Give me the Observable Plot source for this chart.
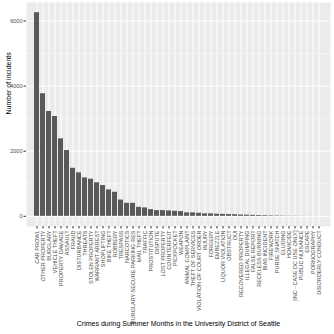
<!DOCTYPE html>
<html>
<head>
<meta charset="utf-8">
<script src="https://cdn.jsdelivr.net/npm/d3@7"></script>
<script src="https://cdn.jsdelivr.net/npm/@observablehq/plot@0.6"></script>
<style>
  html, body { margin: 0; padding: 0; background: white; }
</style>
</head>
<body>
<div id="chart"></div>
<script>
const crimes = [
  "CAR PROWL", "OTHER PROPERTY", "BURGLARY", "VEHICLE THEFT", "PROPERTY DAMAGE",
  "ASSAULT", "FRAUD", "DISTURBANCE", "THREATS", "STOLEN PROPERTY",
  "WARRANT ARREST", "SHOPLIFTING", "BIKE THEFT", "ROBBERY", "TRESPASS",
  "NARCOTICS", "BURGLARY-SECURE PARKING-RES", "MAIL THEFT", "TRAFFIC", "PROSTITUTION",
  "DISPUTE", "LOST PROPERTY", "COUNTERFEIT", "PICKPOCKET", "WEAPON",
  "ANIMAL COMPLAINT", "THEFT OF SERVICES", "VIOLATION OF COURT ORDER", "INJURY", "FORGERY",
  "EMBEZZLE", "LIQUOR VIOLATION", "OBSTRUCT", "DUI", "RECOVERED PROPERTY",
  "ILLEGAL DUMPING", "FALSE REPORT", "RECKLESS BURNING", "BIAS INCIDENT", "FIREWORK",
  "PURSE SNATCH", "ELUDING", "HOMICIDE", "[INC - CASE DC USE ONLY]", "PUBLIC NUISANCE",
  "ESCAPE", "PORNOGRAPHY", "DISORDERLY CONDUCT"
];
const counts = [
  6255, 3765, 3220, 3065, 2380,
  2020, 1475, 1335, 1180, 1140,
  1030, 945, 812, 738, 500,
  400, 400, 277, 258, 206,
  175, 175, 165, 155, 145,
  106, 106, 95, 75, 75,
  65, 60, 55, 50, 40,
  35, 30, 25, 20, 15,
  12, 8, 6, 4, 3,
  2, 1, 1
];
const yTicks = [0, 2000, 4000, 6000];
const yMinor = [1000, 3000, 5000];
const xTitle = "Crimes during Summer Months in the University District of Seattle";
const yTitle = "Number of incidents";

const data = crimes.map((c, i) => ({crime: c, n: counts[i]}));
const ymax = d3.max(counts);
const pad = ymax * 0.05;

const chart = Plot.plot({
  width: 334,
  height: 334,
  marginLeft: 26,
  marginRight: 4,
  marginTop: 2,
  marginBottom: 108,
  style: {fontFamily: "'Liberation Sans', Arial, sans-serif", background: "white"},
  x: {domain: crimes, paddingInner: 0.1, paddingOuter: 0.15, label: null},
  y: {domain: [-pad, ymax + pad], label: null},
  marks: [
    Plot.frame({fill: "#EBEBEB", stroke: null}),
    Plot.ruleY(yMinor, {stroke: "white", strokeWidth: 0.5}),
    Plot.ruleY(yTicks, {stroke: "white", strokeWidth: 1}),
    Plot.ruleX(crimes, {x: d => d, stroke: "white", strokeWidth: 1}),
    Plot.barY(data, {x: "crime", y: "n", fill: "#595959"}),
    Plot.axisY({ticks: yTicks, tickFormat: d => String(d), tickSize: 2.5, tickPadding: 1.5,
      fontSize: 5.5, fill: "#4D4D4D", stroke: "#333333", label: null}),
    Plot.axisX({tickRotate: -90, tickSize: 2.5, tickPadding: 1.5, fontSize: 5.5,
      fill: "#4D4D4D", stroke: "#333333", label: null}),
    Plot.text([yTitle], {frameAnchor: "left", dx: -18, rotate: -90, text: d => d,
      fontSize: 7, fill: "black"}),
    Plot.text([xTitle], {frameAnchor: "bottom", dy: 99, text: d => d,
      fontSize: 7, fill: "black"})
  ]
});
document.getElementById("chart").appendChild(chart);
</script>
</body>
</html>
